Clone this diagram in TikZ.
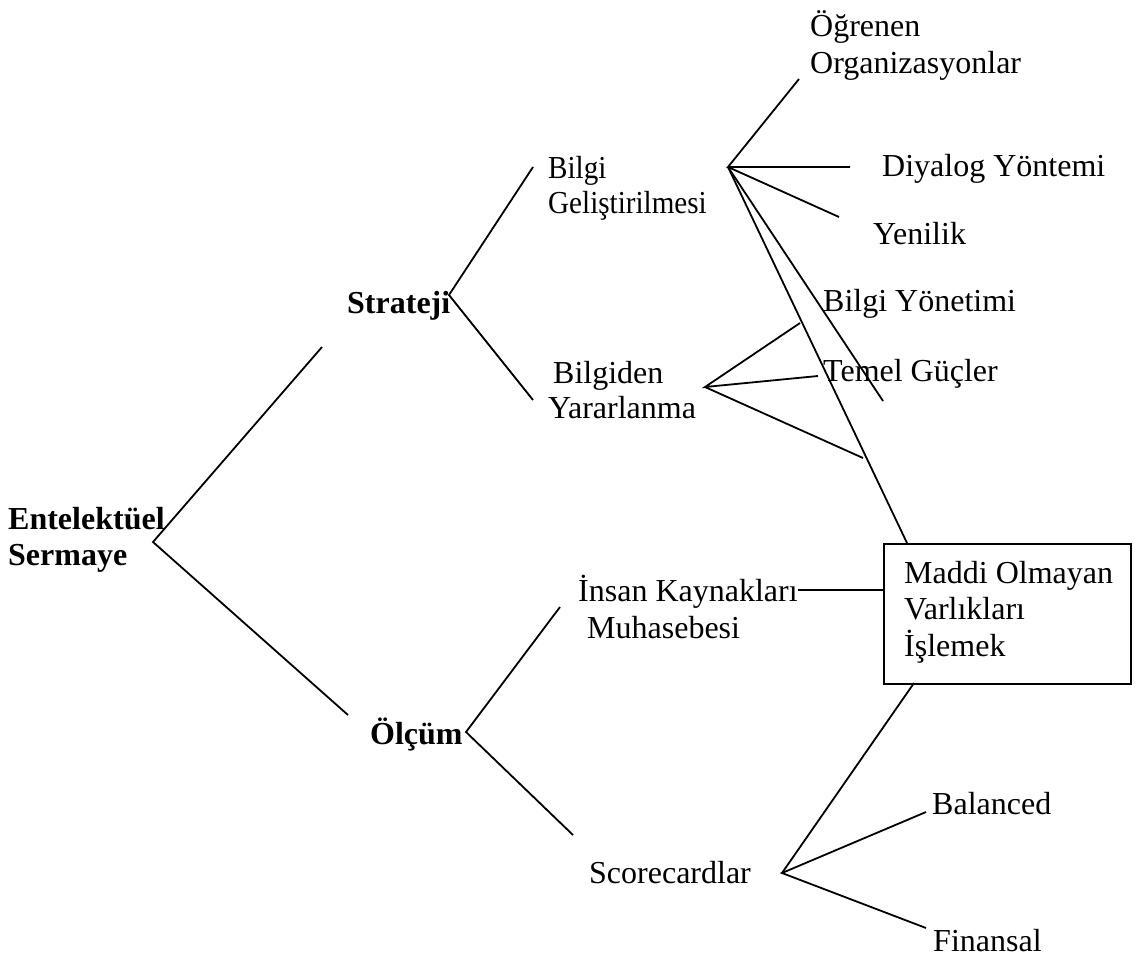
\documentclass[tikz,border=0pt]{standalone}
\usepackage{fontspec}
\usepackage{graphicx}
\setmainfont{Liberation Serif}
\begin{document}
\begin{tikzpicture}[x=1pt,y=-1pt,
  txt/.style={anchor=base west,inner sep=0pt,font=\fontsize{32}{36}\selectfont},
  btxt/.style={anchor=base west,inner sep=0pt,font=\fontsize{32}{36}\selectfont\bfseries},
  ln/.style={line width=1.8pt},
  boxst/.style={draw,line width=2pt,anchor=north west,inner sep=0pt,minimum width=247pt,minimum height=140pt}]
\useasboundingbox (0,0) rectangle (1135,956);

% texts
\node[btxt] (ent1) at (8,529) {Entelektüel};
\node[btxt] (ent2) at (8,565) {Sermaye};
\node[btxt] (str) at (347,313) {Strateji};
\node[btxt] (olc) at (370,744) {Ölçüm};
\node[txt] (bg1) at (548,178) {\scalebox{0.91}[1]{Bilgi}};
\node[txt] (bg2) at (548,213) {\scalebox{0.91}[1]{Geliştirilmesi}};
\node[txt] (by1) at (553,383) {Bilgiden};
\node[txt] (by2) at (548,418) {Yararlanma};
\node[txt] (og1) at (810,36) {Öğrenen};
\node[txt] (og2) at (810,73) {Organizasyonlar};
\node[txt] (dy) at (882,176) {Diyalog Yöntemi};
\node[txt] (ye) at (873,244) {Yenilik};
\node[txt] (by) at (823,311) {Bilgi Yönetimi};
\node[txt] (tg) at (823,381) {Temel Güçler};
\node[txt] (ik1) at (578,601) {İnsan Kaynakları};
\node[txt] (ik2) at (587,638) {Muhasebesi};
\node[boxst] (box) at (883,543) {};
\node[txt] (mo1) at (904,583) {Maddi Olmayan};
\node[txt] (mo2) at (904,619) {Varlıkları};
\node[txt] (mo3) at (904,656) {İşlemek};
\node[txt] (sc) at (589,883) {Scorecardlar};
\node[txt] (bal) at (932,814) {Balanced};
\node[txt] (fin) at (933,951) {Finansal};

% junction points
\coordinate (entv) at (153,542);
\coordinate (strE) at (322,347);
\coordinate (olcE) at (348,715);
\coordinate (strv) at (449,295);
\coordinate (bgE) at (533,167);
\coordinate (byE) at (533,400);
\coordinate (bgv) at (728,167);
\coordinate (ogE) at (799,79);
\coordinate (dyE) at (850,167);
\coordinate (yeE) at (839,217);
\coordinate (lgE) at (883,401);
\coordinate (boxT) at (907,543);
\coordinate (byv) at (705,387);
\coordinate (bmE) at (800,323);
\coordinate (tgE) at (818,376);
\coordinate (lwE) at (863,458);
\coordinate (olcv) at (466,732);
\coordinate (ikE) at (560,607);
\coordinate (scE) at (573,835);
\coordinate (ikR) at (798,590);
\coordinate (boxB) at (914,683);
\coordinate (scv) at (782,873);
\coordinate (balE) at (926,812);
\coordinate (finE) at (926,928);

% connectors
\draw[ln] (strE) -- (entv) -- (olcE);
\draw[ln] (bgE) -- (strv) -- (byE);
\draw[ln] (ogE) -- (bgv) -- (dyE);
\draw[ln] (bgv) -- (yeE);
\draw[ln] (bgv) -- (lgE);
\draw[ln] (bgv) -- (boxT);
\draw[ln] (bmE) -- (byv) -- (tgE);
\draw[ln] (byv) -- (lwE);
\draw[ln] (ikE) -- (olcv) -- (scE);
\draw[ln] (ikR) -- (ikR -| box.west);
\draw[ln] (boxB) -- (scv);
\draw[ln] (balE) -- (scv) -- (finE);
\end{tikzpicture}
\end{document}
